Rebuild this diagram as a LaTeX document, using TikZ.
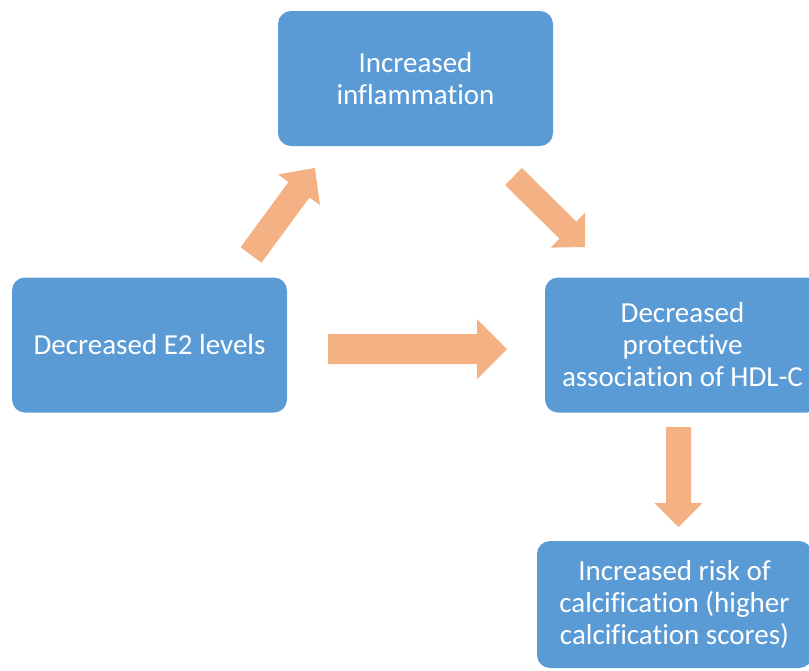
\documentclass[tikz,border=0pt]{standalone}
\usepackage{fontspec}
\setmainfont{Carlito}[Ligatures=CommonOff]
\definecolor{boxblue}{HTML}{5B9BD5}
\definecolor{arroworange}{HTML}{F4B183}
% block arrow: #1 tail coordinate, #2 direction angle, #3 length, #4 half shaft, #5 half head, #6 head length (pt)
\newcommand\blockarr[6]{%
 \begin{scope}[shift={(#1)}, rotate=#2]
 \fill[arroworange] (0,#4) -- (#3-#6,#4) -- (#3-#6,#5) -- (#3,0) -- (#3-#6,-#5) -- (#3-#6,-#4) -- (0,-#4) -- cycle;
 \end{scope}}
\tikzset{box/.style={fill=boxblue, rounded corners=13pt, minimum width=275pt, minimum height=135pt,
  text=white, align=center, font=\fontsize{29}{32}\selectfont, inner sep=0pt}}
\begin{document}
\begin{tikzpicture}[x=1pt,y=-1pt]
\useasboundingbox (0,0) rectangle (809,670);
\clip (0,0) rectangle (809,670);
\node[box] (infl) at (415.5,78.5) {Increased\\inflammation};
\node[box] (e2) at (149.5,345) {Decreased E2 levels};
\node[box] (hdl) at (682.5,345) {Decreased\\protective\\association of HDL-C};
\node[box, minimum height=127pt] (risk) at (674.5,604.5) {Increased risk of\\calcification (higher\\calcification scores)};
\coordinate (a1s) at (251,255);
\coordinate (a2s) at (513.5,176.5);
\coordinate (a3s) at (328,349);
\coordinate (a4s) at (678.5,427);
\blockarr{a1s}{53.66}{108}{13}{26}{27}
\blockarr{a2s}{-44.6}{100.4}{12}{24.5}{24}
\blockarr{a3s}{0}{179}{15}{30}{30}
\blockarr{a4s}{-90}{100}{12.5}{24}{24}
\end{tikzpicture}
\end{document}
